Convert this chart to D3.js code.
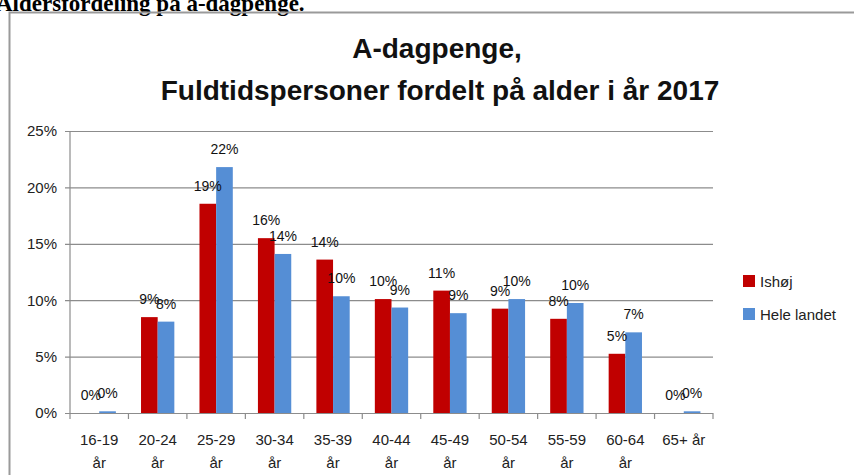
<!DOCTYPE html>
<html>
<head>
<meta charset="utf-8">
<script src="https://cdn.jsdelivr.net/npm/d3@7"></script>
<style>
    body { margin: 0; background: white; }
    svg { display: block; font-family: "Liberation Sans", Arial, sans-serif; }
</style>
</head>
<body>
<svg id="chart" width="854" height="475"></svg>
<script>
let categories = ["16-19 år", "20-24 år", "25-29 år", "30-34 år", "35-39 år", "40-44 år", "45-49 år", "50-54 år", "55-59 år", "60-64 år", "65+ år"];
let seriesNames = ["Ishøj", "Hele landet"];
let ishoj = [0.0, 8.5, 18.55, 15.5, 13.6, 10.1, 10.85, 9.25, 8.35, 5.25, 0.0];
let heleLandet = [0.15, 8.1, 21.8, 14.1, 10.35, 9.35, 8.85, 10.1, 9.75, 7.15, 0.15];
let yTicks = [0, 5, 10, 15, 20, 25];
let colors = ["#C00000", "#558ED5"];

let svg = d3.select("#chart");

let margin = {top: 131, left: 70, right: 713, bottom: 413};

let x0 = d3.scaleBand().domain(categories).range([margin.left, margin.right]).padding(0);
let x1 = d3.scaleBand().domain(seriesNames)
    .range([x0.bandwidth() * 0.215, x0.bandwidth() * 0.785]);
let y = d3.scaleLinear().domain([0, 25]).range([margin.bottom, margin.top]);
let color = d3.scaleOrdinal(seriesNames, colors);

// header text above the chart box (cut off at top)
svg.append("text")
    .attr("x", -4)
    .attr("y", 11)
    .style("font", "bold 23px 'Liberation Serif', serif")
    .text("Aldersfordeling på a-dagpenge.");

// chart frame
svg.append("path")
    .attr("d", "M9.5,480 V12.5 H860")
    .attr("fill", "none")
    .attr("stroke", "#9a9a9a")
    .attr("stroke-width", 2);

// title
let title = svg.append("text")
    .attr("text-anchor", "middle")
    .style("font-weight", "bold")
    .style("font-size", "28px")
    .attr("fill", "#111");
title.append("tspan").attr("x", 437).attr("y", 58).text("A-dagpenge,");
title.append("tspan").attr("x", 440).attr("y", 100).text("Fuldtidspersoner fordelt på alder i år 2017");

// gridlines + y axis
let yAxis = d3.axisLeft(y)
    .tickValues(yTicks)
    .tickFormat(d => d + "%")
    .tickSize(-(margin.right - margin.left))
    .tickPadding(13);

svg.append("g")
    .attr("transform", `translate(${margin.left},0)`)
    .call(yAxis)
    .call(g => g.select(".domain").remove())
    .call(g => g.selectAll(".tick line").attr("stroke", "#8c8c8c").attr("stroke-width", 1.2).attr("x1", -5))
    .call(g => g.selectAll(".tick text").style("font-size", "15px").attr("fill", "#222"));

svg.append("line")
    .attr("x1", margin.left).attr("x2", margin.left)
    .attr("y1", margin.top).attr("y2", margin.bottom)
    .attr("stroke", "#8c8c8c").attr("stroke-width", 1.2);

// x axis ticks between categories
let xAxisG = svg.append("g");
xAxisG.selectAll("line.sep")
    .data(categories.concat([null]))
    .join("line")
    .attr("x1", (d, i) => i < categories.length ? x0(d) : margin.right)
    .attr("x2", (d, i) => i < categories.length ? x0(d) : margin.right)
    .attr("y1", margin.bottom)
    .attr("y2", margin.bottom + 6)
    .attr("stroke", "#8c8c8c")
    .attr("stroke-width", 1.2);

// x labels (wrapped like the original)
xAxisG.selectAll("text")
    .data(categories)
    .join("text")
    .attr("text-anchor", "middle")
    .style("font-size", "15px")
    .attr("fill", "#222")
    .each(function (d)
    {
        let cx = x0(d) + x0.bandwidth() / 2;
        let parts = d === "65+ år" ? [d] : d.split(" ");
        let t = d3.select(this);
        parts.forEach((p, i) =>
        {
            t.append("tspan")
                .attr("x", cx)
                .attr("y", 445 + i * 23)
                .text(p);
        });
    });

// bars
let rows = categories.map((c, i) => ({category: c, values: [
    {name: seriesNames[0], value: ishoj[i]},
    {name: seriesNames[1], value: heleLandet[i]}
]}));

let groups = svg.append("g")
    .selectAll("g")
    .data(rows)
    .join("g")
    .attr("transform", d => `translate(${x0(d.category)},0)`);

groups.selectAll("rect")
    .data(d => d.values)
    .join("rect")
    .attr("x", d => x1(d.name))
    .attr("width", x1.bandwidth())
    .attr("y", d => y(d.value))
    .attr("height", d => y(0) - y(d.value))
    .attr("fill", d => color(d.name));

// data labels
groups.selectAll("text")
    .data(d => d.values)
    .join("text")
    .attr("text-anchor", "middle")
    .attr("x", d => x1(d.name) + x1.bandwidth() / 2)
    .attr("y", d => y(d.value) - 13)
    .style("font-size", "14px")
    .attr("fill", "#111")
    .text(d => Math.round(d.value) + "%");

// legend
let legend = svg.append("g")
    .selectAll("g")
    .data(seriesNames)
    .join("g")
    .attr("transform", (d, i) => `translate(743,${275 + i * 33})`);

legend.append("rect")
    .attr("width", 12)
    .attr("height", 12)
    .attr("fill", d => color(d));

legend.append("text")
    .attr("x", 17)
    .attr("y", 12)
    .style("font-size", "15px")
    .attr("fill", "#222")
    .text(d => d);
</script>
</body>
</html>
